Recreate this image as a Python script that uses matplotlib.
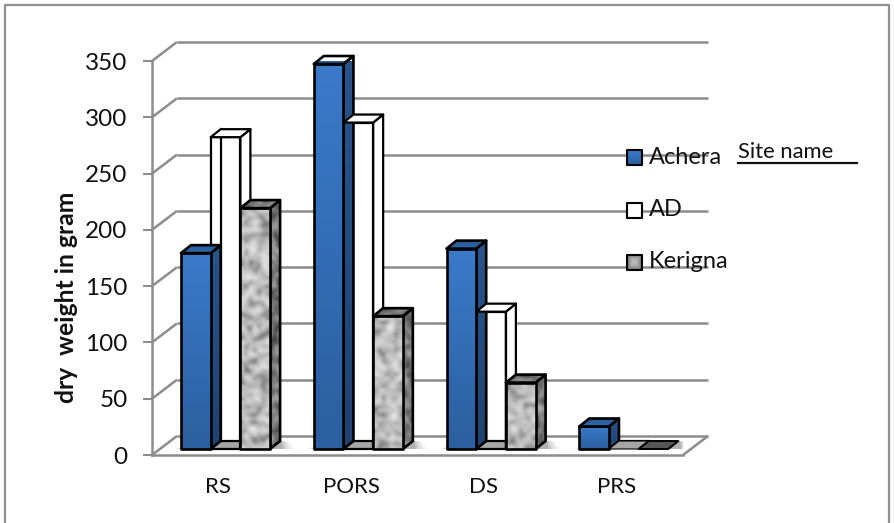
import numpy as np
import matplotlib
matplotlib.use("Agg")
import matplotlib.pyplot as plt
from matplotlib.colors import LinearSegmentedColormap
from matplotlib.lines import Line2D
from matplotlib.patches import Polygon, Rectangle

plt.rcParams["font.family"] = ["Lato", "DejaVu Sans"]

sites = ["RS", "PORS", "DS", "PRS"]
achera = [174, 342, 178, 20]
ad = [277, 290, 122, 0]
kerigna = [214, 118, 59, 0]
y_ticks = [0, 50, 100, 150, 200, 250, 300, 350]
legend_names = ["Achera", "AD", "Kerigna"]

W, H = 894, 523
LEFT, RIGHT, BOTTOM, TOP = 152, 683, 455, 61
PX_X = (RIGHT - LEFT) / len(sites)
PX_Y = (BOTTOM - TOP) / 350
GRID = "#8c8c8c"

BLUE_FRONT = LinearSegmentedColormap.from_list("bf", ["#3a7ac9", "#2c5f9f"])
BLUE_SIDE = LinearSegmentedColormap.from_list("bs", ["#28548c", "#1f4372"])
BLUE_TOP = LinearSegmentedColormap.from_list("bt", ["#2a5b98", "#2f66a8"])
MARBLE = LinearSegmentedColormap.from_list("m", ["#5c5c5c", "#b4b4b4", "#ececec"])
MARBLE_DARK = LinearSegmentedColormap.from_list("md", ["#2e2e2e", "#6e6e6e", "#b4b4b4"])


def to_data(px, py):
    return (px - LEFT) / PX_X, (BOTTOM - py) / PX_Y


def marble(cols, rows, seed):
    # hashed sines give a speckled stone texture once imshow smooths it
    xx, yy = np.meshgrid(np.arange(cols) + seed, np.arange(rows) + seed * 2.7)
    n = np.sin(xx * 12.9898 + yy * 78.233) * 43758.5453
    return (n - np.floor(n)) ** 0.8


def fill_face(ax, pts, z, cmap, tex=None):
    pts = np.array(pts)
    x0, y0 = pts.min(axis=0)
    x1, y1 = pts.max(axis=0)
    if tex is None:
        tex = np.linspace(0, 1, 32).reshape(-1, 1)
    im = ax.imshow(tex, extent=(x0, x1, y0, y1), origin="upper", aspect="auto",
                   cmap=cmap, vmin=0, vmax=1, interpolation="bicubic", zorder=z)
    clip = Polygon(pts, closed=True, transform=ax.transData, fc="none", ec="none")
    ax.add_patch(clip)
    im.set_clip_path(clip)


def outline(ax, pts, z, face="none", lw=1.9):
    ax.add_patch(Polygon(pts, closed=True, fc=face, ec="black", lw=lw,
                         joinstyle="round", zorder=z, clip_on=False))


def faces(x, value, width, base, sx, sy):
    top = base + value
    front = [(x, base), (x + width, base), (x + width, top), (x, top)]
    side = [(x + width, base), (x + width + sx, base + sy),
            (x + width + sx, top + sy), (x + width, top)]
    cap = [(x, top), (x + width, top), (x + width + sx, top + sy), (x + sx, top + sy)]
    return front, side, cap


def tex_for(pts, seed):
    pts = np.array(pts)
    w = (pts[:, 0].max() - pts[:, 0].min()) * PX_X
    h = (pts[:, 1].max() - pts[:, 1].min()) * PX_Y
    return marble(max(int(w / 4), 3), max(int(h / 4), 3), seed)


def solid_bar(ax, x, value, width, base, sx, sy, z, front_map, side_map, top_map, seed=None):
    front, side, cap = faces(x, value, width, base, sx, sy)
    if value > 0:
        fill_face(ax, side, z, side_map, None if seed is None else tex_for(side, seed + 1))
        outline(ax, side, z + 0.1)
        fill_face(ax, front, z + 0.2, front_map, None if seed is None else tex_for(front, seed))
        outline(ax, front, z + 0.3)
    fill_face(ax, cap, z + 0.4, top_map, None if seed is None else tex_for(cap, seed + 2))
    outline(ax, cap, z + 0.5)


fig = plt.figure(figsize=(W / 100, H / 100), dpi=100)
ax = fig.add_axes([LEFT / W, 1 - BOTTOM / H, (RIGHT - LEFT) / W, (BOTTOM - TOP) / H])
ax.patch.set_alpha(0)

# outer chart frame, open along the bottom
fx = [5 / W, 5 / W, 889 / W, 889 / W]
fy = [0, 1 - 5 / H, 1 - 5 / H, 0]
fig.add_artist(Line2D(fx, fy, color="#8f8f8f", lw=1.6))

# back wall gridlines and the slanted floor lines
back_x, back_y = 25 / PX_X, 19 / PX_Y
line_kw = dict(color=GRID, lw=1.8, clip_on=False, solid_capstyle="butt", zorder=1)
for v in y_ticks:
    ax.plot([back_x, len(sites) + back_x], [v + back_y, v + back_y], **line_kw)
    ax.plot([0, back_x], [v, v + back_y], **line_kw)
ax.plot([len(sites), len(sites) + back_x], [0, back_y], **line_kw)

# bars sit a third of the way into the floor depth
bar_w = 29.7 / PX_X
start = (181 - LEFT) / PX_X
base = 6 / PX_Y
sx, sy = 10 / PX_X, 8 / PX_Y

for i in range(len(sites)):
    x = i + start
    z = 3 + i * 2

    # soft shadow on the floor around the group
    for grow, alpha in zip([14, 10, 6, 3], [0.05, 0.07, 0.09, 0.12]):
        ax.add_patch(Polygon(
            [(x - grow * 0.4 / PX_X, base), (x + 3 * bar_w + sx + grow / PX_X, base),
             (x + 3 * bar_w + sx + grow * 0.6 / PX_X, base + sy),
             (x + sx, base + sy)],
            closed=True, fc="black", ec="none", alpha=alpha, zorder=2))

    # AD: white box with its floor and back edges showing through
    ad_x = x + bar_w
    front, side, cap = faces(ad_x, ad[i], bar_w, base, sx, sy)
    if ad[i] > 0:
        ax.add_patch(Polygon(side, closed=True, fc="white", ec="none", zorder=z))
        ax.add_patch(Polygon(front, closed=True, fc="white", ec="none", zorder=z))
    floor = [(ad_x, base), (ad_x + bar_w, base), (ad_x + bar_w + sx, base + sy), (ad_x + sx, base + sy)]
    ax.add_patch(Polygon(floor, closed=True, fc="#a6a6a6", ec="none", zorder=z + 0.02))
    ax.plot([ad_x + sx, ad_x + bar_w + sx], [base + sy, base + sy], color="black", lw=1.6, zorder=z + 0.03)
    if ad[i] > 0:
        ax.plot([ad_x + sx, ad_x + sx], [base + sy, base + ad[i] + sy], color="black", lw=1.6, zorder=z + 0.04)
        outline(ax, side, z + 0.05, lw=1.6)
        outline(ax, front, z + 0.06, lw=1.6)

    solid_bar(ax, x, achera[i], bar_w, base, sx, sy, z + 0.1, BLUE_FRONT, BLUE_SIDE, BLUE_TOP)

    if ad[i] > 0:
        outline(ax, cap, z + 0.7, face="white", lw=1.6)
    else:
        # an empty AD bar leaves only its grey footprint
        outline(ax, floor, z + 0.7, face="#a6a6a6", lw=0.8)

    kx = x + 2 * bar_w
    if kerigna[i] > 0:
        solid_bar(ax, kx, kerigna[i], bar_w, base, sx, sy, z + 0.8, MARBLE, MARBLE_DARK, MARBLE_DARK, seed=i + 1.3)
    else:
        _, _, kcap = faces(kx, 0, bar_w, base, sx, sy)
        outline(ax, kcap, z + 0.8, face="#555555", lw=1.4)

# legend swatches and names, placed by hand inside the plot area
swatch_top = [150, 203, 255]
text_y = [158, 210, 262]
blue_tex = np.linspace(0, 1, 16).reshape(-1, 1)
yy, xx = np.mgrid[-1:1:16j, -1:1:16j]
grey_tex = 0.75 - 0.55 * np.maximum(np.abs(xx), np.abs(yy)) ** 2
grey_map = LinearSegmentedColormap.from_list("g", ["#505050", "#e0e0e0"])
for name, top_px, ty, k in zip(legend_names, swatch_top, text_y, range(3)):
    x0, y0 = to_data(627, top_px + 15)
    x1, y1 = to_data(642, top_px)
    pts = [(x0, y0), (x1, y0), (x1, y1), (x0, y1)]
    if k == 0:
        fill_face(ax, pts, 20, BLUE_FRONT, blue_tex)
    elif k == 2:
        fill_face(ax, pts, 20, grey_map, grey_tex)
    else:
        ax.add_patch(Rectangle((x0, y0), x1 - x0, y1 - y0, fc="white", ec="none", zorder=20, clip_on=False))
    outline(ax, pts, 21, lw=1.5)
    fig.text(649 / W, 1 - ty / H, name, fontsize=17, va="center", ha="left", color="#111111", zorder=22)

fig.text(738 / W, 1 - 152 / H, "Site name", fontsize=15.8, va="center", ha="left", color="#111111")
fig.add_artist(Line2D([738 / W, 857 / W], [1 - 163 / H, 1 - 163 / H], color="#111111", lw=1.6))

ax.set_xlim(0, len(sites))
ax.set_ylim(0, 350)
for name in ["top", "right"]:
    ax.spines[name].set_visible(False)
for name in ["left", "bottom"]:
    ax.spines[name].set_color(GRID)
    ax.spines[name].set_linewidth(1.8)
    ax.spines[name].set_zorder(1.5)
ax.set_yticks(y_ticks)
ax.tick_params(axis="y", length=6.5, width=1.5, color=GRID, pad=11, labelsize=17.5, labelcolor="#111111")
ax.set_xticks(np.arange(len(sites)) + 0.5)
ax.set_xticklabels(sites)
ax.tick_params(axis="x", length=0, pad=16, labelsize=16, labelcolor="#111111")

fig.text(66 / W, 1 - 297 / H, "dry  weight in gram", rotation=90, fontsize=17.8,
         fontweight="bold", ha="center", va="center", color="#111111")

fig.savefig("out.png", dpi=100)
plt.close(fig)
